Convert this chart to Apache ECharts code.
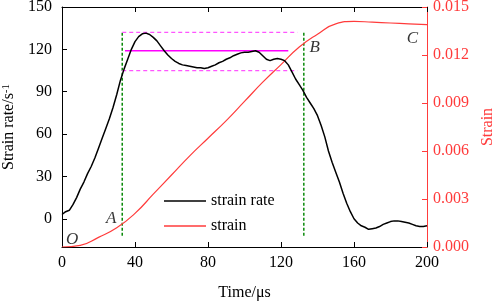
<!DOCTYPE html>
<html>
<head>
<meta charset="utf-8">
<script src="https://cdn.jsdelivr.net/npm/echarts@6/dist/echarts.min.js"></script>
<style>
  html, body { margin: 0; padding: 0; background: #fff; }
  #chart { width: 498px; height: 304px; }
</style>
</head>
<body>
<div id="chart"></div>
<script>
// strain rate (1/s) vs time (µs)
const rateTime = [0, 2, 4, 6, 8, 10, 12, 14, 16, 18, 20, 22, 24, 26, 28, 30, 32, 34, 36, 38,
  40, 42, 44, 46, 48, 50, 52, 54, 56, 58, 60, 62, 64, 66, 68, 70, 72, 74, 76, 78,
  80, 82, 84, 86, 88, 90, 92, 94, 96, 98, 100, 102, 104, 106, 108, 110, 112, 114, 116, 118,
  120, 122, 124, 126, 128, 130, 132, 134, 136, 138, 140, 142, 144, 146, 148, 150, 152, 154, 156, 158,
  160, 162, 164, 166, 168, 170, 172, 174, 176, 178, 180, 182, 184, 186, 188, 190, 192, 194, 196, 198, 200]
const rateValue = [3, 5, 6, 10, 15, 21, 26, 32, 37, 43, 50, 57, 64, 71, 79, 88, 98, 106, 113, 120,
  125.5, 129, 131, 131.5, 130.5, 128.5, 126, 122.5, 119, 116, 113.5, 111.5, 110, 109, 108.5, 108, 107.5, 107, 107, 106.5,
  107, 108, 109, 110.5, 111.5, 113, 114, 115.5, 116.5, 117.5, 118, 118, 118.5, 119, 118, 115.5, 113, 112, 113, 113.5,
  113, 112, 109, 104, 99, 95, 91, 86, 82, 78, 73, 66, 58, 48, 40, 33, 26, 18, 11, 5,
  0, -3, -5, -6, -7.5, -7, -6.5, -5.5, -4, -3, -2, -1.5, -1.5, -2, -2.5, -3, -4, -5, -5.5, -5.5, -5]

// strain vs time (µs)
const strainTime = [0, 10, 20, 30, 40, 50, 60, 70, 80, 90, 100, 110, 120, 130, 140, 150, 160, 170, 180, 190, 200]
const strainValue = [0, 0.0001, 0.0006, 0.0012, 0.0021, 0.0033, 0.0045, 0.0057, 0.0068, 0.0079, 0.0091,
  0.0103, 0.0114, 0.0125, 0.0133, 0.01395, 0.0141, 0.01405, 0.0140, 0.01395, 0.0139]

// reference lines
const boundA = 33
const boundB = 132.5
const boundRange = [-12, 133]
const plateauMean = 119
const plateauUpper = 132
const plateauLower = 105
const plateauMeanSpan = [34.5, 124]
const plateauBandSpan = [33, 129]

// point labels [time, strain rate, text]
const pointLabels = [[27, 0, 'A'], [5.5, -15, 'O'], [138.5, 121, 'B'], [192, 127.5, 'C']]

const leftTicks = [0, 30, 60, 90, 120, 150]

const serif = 'Liberation Serif'
const red = '#ff3b3b'

const chart = echarts.init(document.getElementById('chart'))

const option = {
  animation: false,
  backgroundColor: '#fff',
  textStyle: { fontFamily: serif },
  grid: { left: 62, right: 71, top: 7, bottom: 57, outerBoundsMode: 'none', containLabel: false },
  legend: {
    orient: 'vertical', left: 164, top: 193, padding: 0,
    icon: 'rect', itemWidth: 42, itemHeight: 1.5, itemGap: 9,
    textStyle: { fontFamily: serif, fontSize: 16, color: '#000' },
    data: ['strain rate', 'strain']
  },
  xAxis: [
    {
      type: 'value', min: 0, max: 200, interval: 40,
      name: 'Time/μs', nameLocation: 'middle', nameGap: 38,
      nameTextStyle: { fontFamily: serif, fontSize: 16, color: '#000' },
      axisLine: { onZero: false, lineStyle: { color: '#000', width: 1 } },
      axisTick: { inside: true, length: 5, lineStyle: { color: '#000' } },
      axisLabel: { fontFamily: serif, fontSize: 16, color: '#000', margin: 8 },
      splitLine: { show: false }
    },
    {
      type: 'value', min: 0, max: 200, interval: 40, position: 'top',
      axisLine: { onZero: false, lineStyle: { color: '#000', width: 1 } },
      axisTick: { inside: true, length: 5, lineStyle: { color: '#000' } },
      axisLabel: { show: false },
      splitLine: { show: false }
    }
  ],
  yAxis: [
    {
      type: 'value', min: -20, max: 150, position: 'left',
      name: '{a|Strain rate/s}{b|-1}', nameLocation: 'middle', nameGap: 38,
      nameTextStyle: {
        fontFamily: serif, fontSize: 16, color: '#000',
        rich: {
          a: { fontFamily: serif, fontSize: 16, color: '#000' },
          b: { fontFamily: serif, fontSize: 11, color: '#000', verticalAlign: 'top', padding: [0, 0, 6, 0] }
        }
      },
      axisLine: { show: true, onZero: false, lineStyle: { color: '#000', width: 1 } },
      axisTick: { inside: true, length: 5, customValues: leftTicks, lineStyle: { color: '#000' } },
      axisLabel: { fontFamily: serif, fontSize: 16, color: '#000', margin: 10, customValues: leftTicks },
      splitLine: { show: false }
    },
    {
      type: 'value', min: 0, max: 0.015, interval: 0.003, position: 'right',
      name: 'Strain', nameLocation: 'middle', nameGap: 52,
      nameTextStyle: { fontFamily: serif, fontSize: 16, color: red },
      axisLine: { show: true, onZero: false, lineStyle: { color: red, width: 1 } },
      axisTick: { inside: true, length: 5, lineStyle: { color: red } },
      axisLabel: { fontFamily: serif, fontSize: 16, color: red, margin: 6, formatter: v => v.toFixed(3) },
      splitLine: { show: false }
    }
  ],
  series: [
    {
      name: 'strain rate', type: 'line', symbol: 'none', z: 5,
      data: rateTime.map((t, i) => [t, rateValue[i]]),
      lineStyle: { color: '#000', width: 1.5 }, itemStyle: { color: '#000' }
    },
    {
      name: 'strain', type: 'line', symbol: 'none', smooth: true, yAxisIndex: 1, z: 4,
      data: strainTime.map((t, i) => [t, strainValue[i]]),
      lineStyle: { color: red, width: 1.2 }, itemStyle: { color: red }
    },
    {
      name: 'boundA', type: 'line', symbol: 'none', z: 3,
      data: [[boundA, boundRange[0]], [boundA, boundRange[1]]],
      lineStyle: { color: '#0a8a0a', width: 1.5, type: [3, 2] }
    },
    {
      name: 'boundB', type: 'line', symbol: 'none', z: 3,
      data: [[boundB, boundRange[0]], [boundB, boundRange[1]]],
      lineStyle: { color: '#0a8a0a', width: 1.5, type: [3, 2] }
    },
    {
      name: 'mean', type: 'line', symbol: 'none', z: 3,
      data: [[plateauMeanSpan[0], plateauMean], [plateauMeanSpan[1], plateauMean]],
      lineStyle: { color: '#ff00ff', width: 1.5 }
    },
    {
      name: 'upper', type: 'line', symbol: 'none', z: 3,
      data: [[plateauBandSpan[0], plateauUpper], [plateauBandSpan[1], plateauUpper]],
      lineStyle: { color: '#ff55ff', width: 1.2, type: [4, 3] }
    },
    {
      name: 'lower', type: 'line', symbol: 'none', z: 3,
      data: [[plateauBandSpan[0], plateauLower], [plateauBandSpan[1], plateauLower]],
      lineStyle: { color: '#ff55ff', width: 1.2, type: [4, 3] }
    },
    {
      name: 'labels', type: 'scatter', symbolSize: 0, z: 6,
      data: pointLabels.map(p => ({ value: [p[0], p[1]], name: p[2] })),
      label: {
        show: true, position: 'inside', formatter: p => p.name,
        fontFamily: serif, fontStyle: 'italic', fontSize: 17, color: '#000'
      }
    }
  ]
}

chart.setOption(option)
</script>
</body>
</html>
